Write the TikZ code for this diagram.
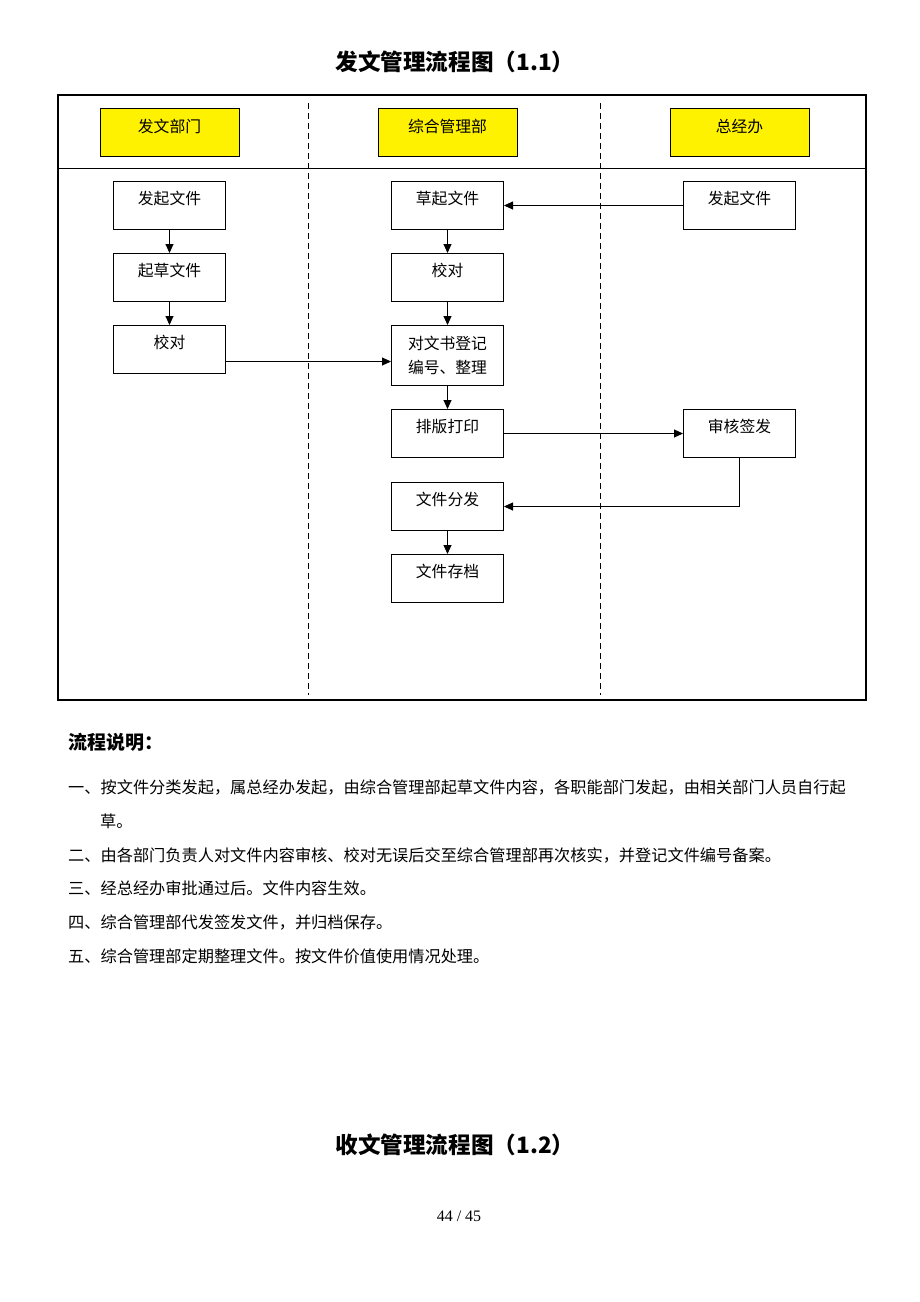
\documentclass[tikz,border=0pt]{standalone}
\usepackage{fontspec}
\setmainfont{Noto Sans CJK SC}
\newfontfamily\serifnum{Liberation Serif}
\usetikzlibrary{arrows.meta}
\begin{document}
\begin{tikzpicture}[x=1pt,y=-1pt,
  base/.style={draw,line width=1pt,minimum width=112pt,inner xsep=0pt,inner ysep=0pt,
    font=\fontsize{15.8}{24}\selectfont,anchor=north},
  box/.style={base,text height=23pt,text depth=25pt},
  tallbox/.style={base,minimum height=60pt,align=center},
  head/.style={box,fill=yellow,minimum width=139pt,text height=24pt,text depth=24pt},
  arr/.style={line width=0.9pt,-{Triangle[length=9pt,width=8pt]}},
  lane/.style={line width=1pt,dash pattern=on 6pt off 4pt},
  note/.style={anchor=west,inner sep=0pt,font=\fontsize{16.2}{18}\selectfont},
  title/.style={inner sep=0pt,font=\fontsize{22.6}{24}\selectfont\bfseries}]
\useasboundingbox (0,0) rectangle (920,1302);
\fill[white] (0,0) rectangle (920,1302);

\node[title] (t1) at (455,62) {发文管理流程图（1.1）};

% frame
\draw[line width=2pt] (58,95) rectangle (866,700);
\draw[line width=1pt] (58,168) -- (866,168);
\draw[lane] (308,103) -- (308,695);
\draw[lane] (600,103) -- (600,695);

% headers
\node[head] (h1) at (169.5,108) {发文部门};
\node[head] (h2) at (447.5,108) {综合管理部};
\node[head] (h3) at (739.5,108) {总经办};

% column 1
\node[box] (a1) at (169.5,181) {发起文件};
\node[box] (a2) at (169.5,253) {起草文件};
\node[box] (a3) at (169.5,325) {校对};

% column 2
\node[box] (b1) at (447.5,181) {草起文件};
\node[box] (b2) at (447.5,253) {校对};
\node[tallbox] (b3) at (447.5,325) {对文书登记\\编号、整理};
\node[box] (b4) at (447.5,409) {排版打印};
\node[box] (b5) at (447.5,482) {文件分发};
\node[box] (b6) at (447.5,554) {文件存档};

% column 3
\node[box] (c1) at (739.5,181) {发起文件};
\node[box] (c2) at (739.5,409) {审核签发};

% connectors
\draw[arr] (a1) -- (a2);
\draw[arr] (a2) -- (a3);
\draw[arr] ([yshift=-12pt]a3.east) -- ([yshift=-12pt]a3.east -| b3.west);
\draw[arr] (c1.west) -- (b1.east);
\draw[arr] (b1) -- (b2);
\draw[arr] (b2) -- (b3);
\draw[arr] (b3) -- (b4);
\draw[arr] (b4.east) -- (c2.west);
\draw[arr] (c2.south) |- (b5.east);
\draw[arr] (b5) -- (b6);

% notes
\node[anchor=west,inner sep=0pt,font=\fontsize{19}{22}\selectfont\bfseries] (n0) at (68,742) {流程说明：};
\node[note] (n1) at (68,787) {一、按文件分类发起，属总经办发起，由综合管理部起草文件内容，各职能部门发起，由相关部门人员自行起};
\node[note] (n1b) at (100,821) {草。};
\node[note] (n2) at (68,855) {二、由各部门负责人对文件内容审核、校对无误后交至综合管理部再次核实，并登记文件编号备案。};
\node[note] (n3) at (68,888) {三、经总经办审批通过后。文件内容生效。};
\node[note] (n4) at (68,922) {四、综合管理部代发签发文件，并归档保存。};
\node[note] (n5) at (68,956) {五、综合管理部定期整理文件。按文件价值使用情况处理。};

\node[title] (t2) at (455,1145) {收文管理流程图（1.2）};
\node[inner sep=0pt,font=\serifnum\fontsize{16}{18}\selectfont] (pg) at (459,1216) {44 / 45};
\end{tikzpicture}
\end{document}
